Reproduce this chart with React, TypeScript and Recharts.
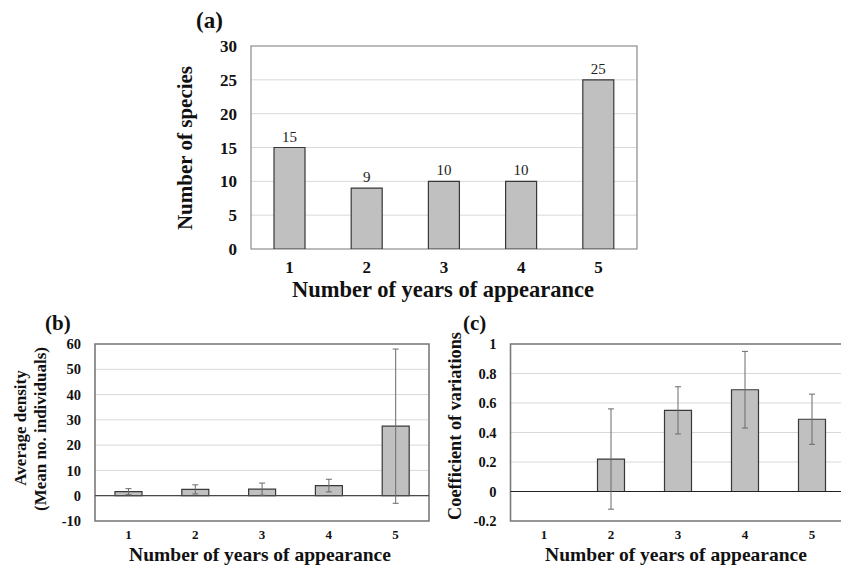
import React from 'react';
import {
  BarChart,
  Bar,
  XAxis,
  YAxis,
  CartesianGrid,
  ReferenceArea,
  ReferenceLine,
  ErrorBar,
  LabelList,
} from 'recharts';

// x categories shared by all three panels
const years = ['1', '2', '3', '4', '5'];

// (a) number of species per number of years of appearance
const speciesCounts = [15, 9, 10, 10, 25];
const speciesTicks = [0, 5, 10, 15, 20, 25, 30];

// (b) average density, mean +- error
const densityMeans = [1.6, 2.5, 2.6, 4.0, 27.5];
const densityErrors = [1.2, 1.8, 2.4, 2.5, 30.5];
const densityTicks = [-10, 0, 10, 20, 30, 40, 50, 60];

// (c) coefficient of variations (no value for 1 year)
const cvMeans = [null, 0.22, 0.55, 0.69, 0.49];
const cvErrors = [null, 0.34, 0.16, 0.26, 0.17];
const cvTicks = [-0.2, 0, 0.2, 0.4, 0.6, 0.8, 1];

const serif = "'Liberation Serif', 'Times New Roman', serif";
const barFill = '#c0c0c0';
const barStroke = '#383838';
const gridColor = '#d9d9d9';

const speciesData = years.map((y, i) => ({ year: y, count: speciesCounts[i] }));
const densityData = years.map((y, i) => ({ year: y, mean: densityMeans[i], err: densityErrors[i] }));
const cvData = years.map((y, i) => ({ year: y, mean: cvMeans[i], err: cvErrors[i] }));

const layer: React.CSSProperties = { position: 'absolute', left: 0, top: 0 };

const Titles = () => (
  <svg width={841} height={567} style={{ ...layer, pointerEvents: 'none' }} fontFamily={serif} fontWeight="bold" fill="#111">
    <text x={196} y={28} fontSize={23}>(a)</text>
    <text x={0} y={0} fontSize={21} textAnchor="middle" transform="translate(192,148) rotate(-90)">
      Number of species
    </text>
    <text x={443} y={297} fontSize={22.5} textAnchor="middle">Number of years of appearance</text>

    <text x={45} y={330} fontSize={21}>(b)</text>
    <text x={0} y={0} fontSize={17} textAnchor="middle" transform="translate(26,428) rotate(-90)">
      Average density
    </text>
    <text x={0} y={0} fontSize={17} textAnchor="middle" transform="translate(46,429) rotate(-90)">
      (Mean no. individuals)
    </text>
    <text x={260} y={561} fontSize={19.5} textAnchor="middle">Number of years of appearance</text>

    <text x={463} y={330} fontSize={21}>(c)</text>
    <text x={0} y={0} fontSize={18.3} textAnchor="middle" transform="translate(461,426) rotate(-90)">
      Coefficient of variations
    </text>
    <text x={676} y={561} fontSize={19.5} textAnchor="middle">Number of years of appearance</text>
  </svg>
);

const bigTick = { fontSize: 17, fontWeight: 'bold', fill: '#111', fontFamily: serif };
const smallYTick = { fontSize: 14.5, fontWeight: 'bold', fill: '#111', fontFamily: serif };
const smallXTick = { fontSize: 13, fontWeight: 'bold', fill: '#111', fontFamily: serif };

export default function App() {
  return (
    <div style={{ ...layer, width: 841, height: 567, overflow: 'hidden', background: '#fff' }}>
      {/* (a) */}
      <div style={layer}>
        <BarChart width={841} height={300} data={speciesData} margin={{ top: 46, right: 204, bottom: 21, left: 191 }}>
          <CartesianGrid vertical={false} stroke={gridColor} />
          <XAxis dataKey="year" tickLine={false} axisLine={false} tickSize={0} tickMargin={12} tick={bigTick} />
          <YAxis
            width={60}
            domain={[0, 30]}
            ticks={speciesTicks}
            allowDataOverflow
            tickLine={false}
            axisLine={false}
            tickSize={0}
            tickMargin={14}
            tick={bigTick}
          />
          <ReferenceArea y1={0} y2={30} fill="none" stroke="#8a8a8a" strokeWidth={1.2} />
          <Bar dataKey="count" fill={barFill} stroke={barStroke} strokeWidth={1.2} barSize={31} isAnimationActive={false}>
            <LabelList dataKey="count" position="top" offset={6} style={{ fontSize: 15, fill: '#222', fontFamily: serif }} />
          </Bar>
        </BarChart>
      </div>

      {/* (b) */}
      <div style={layer}>
        <BarChart width={841} height={567} data={densityData} margin={{ top: 344, right: 412, bottom: 16, left: 35 }}>
          <CartesianGrid vertical={false} stroke={gridColor} />
          <XAxis dataKey="year" tickLine={false} axisLine={false} tickSize={0} tickMargin={9} tick={smallXTick} />
          <YAxis
            width={60}
            domain={[-10, 60]}
            ticks={densityTicks}
            allowDataOverflow
            tickLine={false}
            axisLine={false}
            tickSize={0}
            tickMargin={14}
            tick={smallYTick}
          />
          <ReferenceArea y1={-10} y2={60} fill="none" stroke="#7a7a7a" strokeWidth={1.6} />
          <ReferenceLine y={0} stroke="#4a4a4a" strokeWidth={1.2} />
          <Bar dataKey="mean" fill={barFill} stroke={barStroke} strokeWidth={1.2} barSize={27} isAnimationActive={false}>
            <ErrorBar dataKey="err" width={3} stroke="#6a6a6a" strokeWidth={1} direction="y" />
          </Bar>
        </BarChart>
      </div>

      {/* (c) */}
      <div style={layer}>
        <BarChart width={900} height={567} data={cvData} margin={{ top: 344, right: 54.5, bottom: 16, left: 450.5 }}>
          <CartesianGrid vertical={false} stroke={gridColor} />
          <XAxis dataKey="year" tickLine={false} axisLine={false} tickSize={0} tickMargin={9} tick={smallXTick} />
          <YAxis
            width={60}
            domain={[-0.2, 1]}
            ticks={cvTicks}
            allowDataOverflow
            tickLine={false}
            axisLine={false}
            tickSize={0}
            tickMargin={14}
            tick={smallYTick}
          />
          <ReferenceArea y1={-0.2} y2={1} fill="none" stroke="#7a7a7a" strokeWidth={1.6} />
          <ReferenceLine y={0} stroke="#222" strokeWidth={1.2} />
          <Bar dataKey="mean" fill={barFill} stroke={barStroke} strokeWidth={1.2} barSize={27} isAnimationActive={false}>
            <ErrorBar dataKey="err" width={3} stroke="#6a6a6a" strokeWidth={1} direction="y" />
          </Bar>
        </BarChart>
      </div>

      <Titles />
    </div>
  );
}
